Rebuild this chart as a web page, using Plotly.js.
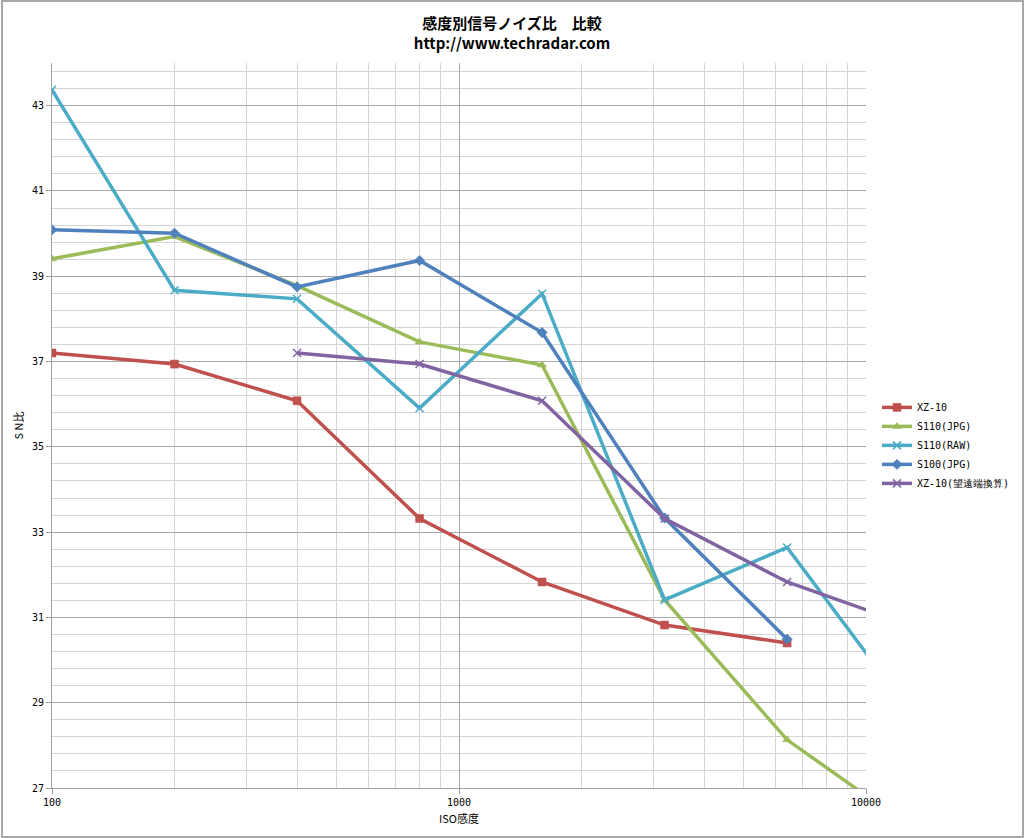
<!DOCTYPE html>
<html>
<head>
<meta charset="utf-8">
<script src="https://cdn.plot.ly/plotly-3.0.1.min.js"></script>
<style>
html,body{margin:0;padding:0;background:#fff;}
#chart{width:1024px;height:838px;position:absolute;left:0;top:0;}
#frame{position:absolute;left:1px;top:0px;width:1019px;height:834px;border:2px solid #a8a8a8;pointer-events:none;}
</style>
</head>
<body>
<div id="chart"></div>
<div id="frame"></div>
<script>
const iso = [100, 200, 400, 800, 1600, 3200, 6400, 12800];
const isoTele = [400, 800, 1600, 3200, 6400, 12800, 25600];

const xz10 = [37.2, 36.94, 36.08, 33.32, 31.83, 30.82, 30.4];
const s110jpg = [39.41, 39.93, 38.78, 37.46, 36.92, 31.41, 28.13, 26.1];
const s110raw = [43.37, 38.67, 38.47, 35.91, 38.59, 31.41, 32.64, 28.8];
const s100jpg = [40.09, 40.01, 38.75, 39.37, 37.68, 33.33, 30.49];
const xz10tele = [37.2, 36.94, 36.08, 33.32, 31.83, 30.82, 30.4];

const names = ['XZ-10', 'S110(JPG)', 'S110(RAW)', 'S100(JPG)', 'XZ-10(望遠端換算)'];
const yTicks = [27, 29, 31, 33, 35, 37, 39, 41, 43];
const xTicks = [100, 1000, 10000];
const xTickText = ['100', '1000', '10000'];
const xMinor = [200, 300, 400, 500, 600, 700, 800, 900, 2000, 3000, 4000, 5000, 6000, 7000, 8000, 9000];

const colors = ['#C0504D', '#9BBB59', '#4BACC6', '#4F81BD', '#8064A2'];
const symbols = ['square', 'triangle-up', 'x-thin-open', 'diamond', 'x-thin-open'];
const xs = [iso, iso, iso, iso, isoTele];
const ys = [xz10, s110jpg, s110raw, s100jpg, xz10tele];

const traces = ys.map((y, i) => ({
  type: 'scatter',
  mode: 'lines+markers',
  name: names[i],
  x: xs[i].slice(0, y.length),
  y: y,
  line: {color: colors[i], width: 3.5},
  marker: {
    symbol: symbols[i],
    size: 8,
    color: colors[i],
    line: {color: colors[i], width: symbols[i] === 'x-thin-open' ? 1.5 : 0.5}
  },
  cliponaxis: true
}));

const monoFont = {family: 'DejaVu Sans Mono, monospace', size: 10, color: '#000'};

const layout = {
  width: 1024,
  height: 838,
  paper_bgcolor: '#ffffff',
  plot_bgcolor: '#ffffff',
  margin: {l: 52, r: 158, t: 63, b: 50, autoexpand: false},
  title: {
    text: '<b>感度別信号ノイズ比　比較</b><br><b>http://www.techradar.com</b>',
    font: {family: 'Noto Sans CJK JP, sans-serif', size: 15, color: '#000'},
    xref: 'container', x: 0.5, xanchor: 'center',
    yref: 'container', y: 0.965, yanchor: 'middle',
    automargin: false
  },
  showlegend: true,
  legend: {
    x: 1.0135, xanchor: 'left',
    y: 0.545, yanchor: 'top',
    font: monoFont,
    itemwidth: 30,
    bgcolor: 'rgba(0,0,0,0)',
    tracegroupgap: 0
  },
  xaxis: {
    type: 'log',
    range: [2, 4],
    tickmode: 'array',
    tickvals: xTicks,
    ticktext: xTickText,
    tickfont: monoFont,
    ticks: 'outside',
    ticklen: 5,
    tickcolor: '#999',
    showgrid: true,
    gridcolor: '#a8a8a8',
    gridwidth: 1,
    showline: true,
    linecolor: '#a0a0a0',
    linewidth: 1,
    zeroline: false,
    minor: {
      tickmode: 'array',
      tickvals: xMinor,
      showgrid: true,
      gridcolor: '#d4d4d4',
      gridwidth: 1,
      ticks: ''
    },
    title: {
      text: 'ISO感度',
      font: {family: 'Noto Sans CJK JP, sans-serif', size: 11, color: '#000'},
      standoff: 8
    }
  },
  yaxis: {
    range: [27, 44],
    tickmode: 'array',
    tickvals: yTicks,
    tickfont: monoFont,
    ticks: 'outside',
    ticklen: 5,
    tickcolor: '#999',
    showgrid: true,
    gridcolor: '#a8a8a8',
    gridwidth: 1,
    showline: true,
    linecolor: '#a0a0a0',
    linewidth: 1,
    zeroline: false,
    minor: {
      tick0: 27,
      dtick: 0.4,
      showgrid: true,
      gridcolor: '#d4d4d4',
      gridwidth: 1,
      ticks: ''
    },
    title: {
      text: 'S N比',
      font: {family: 'Noto Sans CJK JP, sans-serif', size: 11, color: '#000'},
      standoff: 6
    }
  }
};

Plotly.newPlot('chart', traces, layout, {displayModeBar: false, staticPlot: true});
</script>
</body>
</html>
